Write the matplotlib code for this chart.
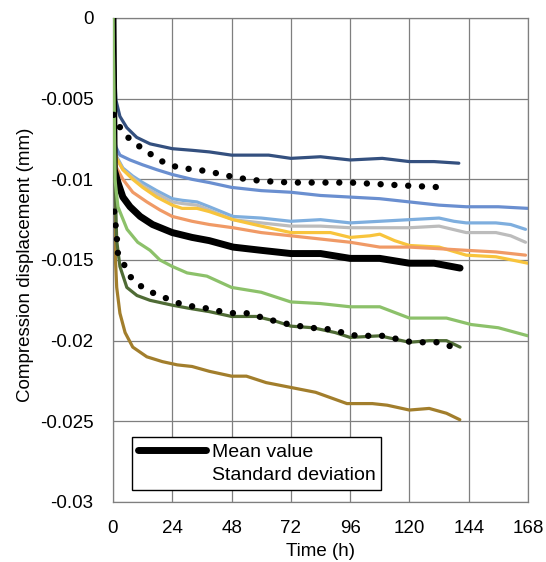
import matplotlib
matplotlib.use("Agg")
import matplotlib.pyplot as plt
from matplotlib.lines import Line2D

plt.rcParams['font.family'] = ['Liberation Sans', 'DejaVu Sans']

# ---------------- data (time in h, displacement in mm) ----------------
t_darkblue = [0, 0.8, 1.2, 2.8, 5.6, 9.6, 15, 24, 32, 39, 48, 55, 63, 72, 84, 96, 109, 120, 130, 140]
y_darkblue = [0, -0.0038, -0.0051, -0.0061, -0.0068, -0.0074, -0.0078, -0.0081, -0.0082, -0.0083, -0.0085,
              -0.0085, -0.0085, -0.0087, -0.0086, -0.0088, -0.0087, -0.0089, -0.0089, -0.0090]

t_blue = [0, 0.5, 1.2, 2.8, 6.9, 12, 17.7, 24, 32, 39, 48, 60, 72, 84, 96, 108, 120, 132, 143, 156, 168]
y_blue = [0, -0.0075, -0.0080, -0.0085, -0.0088, -0.0091, -0.0094, -0.0097, -0.0100, -0.0102, -0.0105,
          -0.0107, -0.0108, -0.0110, -0.0111, -0.0112, -0.0114, -0.0116, -0.0117, -0.0117, -0.0118]

t_lightblue = [0, 0.5, 1.5, 4, 8, 12, 17.7, 24, 28, 34, 39, 48.6, 60, 72, 84, 96, 108, 120, 132, 138, 143,
               155, 161, 167]
y_lightblue = [0, -0.0080, -0.0086, -0.0093, -0.0098, -0.0102, -0.0107, -0.0112, -0.0113, -0.0114, -0.0117,
               -0.0123, -0.0124, -0.0126, -0.0125, -0.0127, -0.0126, -0.0125, -0.0124, -0.0126, -0.0127,
               -0.0127, -0.0128, -0.0131]

t_gray = [0, 0.5, 1.5, 4, 8, 12, 17.7, 24, 28, 34, 39, 48.6, 60, 72, 84, 96, 108, 120, 132, 143, 155, 161, 167]
y_gray = [0, -0.0081, -0.0087, -0.0094, -0.0099, -0.0104, -0.0109, -0.0114, -0.0115, -0.0116, -0.0119,
          -0.0125, -0.0127, -0.0129, -0.0129, -0.0130, -0.0130, -0.0130, -0.0129, -0.0133, -0.0133,
          -0.0135, -0.0139]

t_yellow = [0, 0.5, 1.5, 4, 8, 12, 17.7, 24, 28, 34, 39, 48.6, 60, 72, 80, 88, 96, 104, 108, 114, 120, 132,
            143, 155, 168]
y_yellow = [0, -0.0082, -0.0087, -0.0094, -0.0100, -0.0105, -0.0111, -0.0116, -0.0118, -0.0118, -0.0120,
            -0.0125, -0.0129, -0.0133, -0.0133, -0.0133, -0.0136, -0.0135, -0.0134, -0.0138, -0.0141,
            -0.0142, -0.0147, -0.0148, -0.0152]

t_orange = [0, 0.5, 1.5, 4, 8, 13.7, 19, 24, 32, 39, 48.6, 60, 72, 84, 96, 108, 120, 132, 143, 155, 167]
y_orange = [0, -0.0087, -0.0093, -0.0100, -0.0108, -0.0114, -0.0119, -0.0123, -0.0126, -0.0128, -0.0130,
            -0.0133, -0.0135, -0.0137, -0.0139, -0.0142, -0.0142, -0.0143, -0.0144, -0.0145, -0.0147]

t_lightgreen = [0, 0.8, 2, 5.7, 10, 15, 19, 24, 30, 38, 48, 60, 72, 84, 96, 108, 120, 135, 145, 156, 168]
y_lightgreen = [0, -0.0100, -0.0117, -0.0131, -0.0139, -0.0144, -0.0150, -0.0154, -0.0158, -0.0160,
                -0.0167, -0.0170, -0.0176, -0.0177, -0.0179, -0.0179, -0.0186, -0.0186, -0.0190,
                -0.0192, -0.0197]

t_darkgreen = [0, 0.8, 1.5, 2.8, 5.6, 9.7, 15, 24, 31, 39, 48, 58, 66, 72, 81, 90, 96, 108, 120, 128, 135,
               140.5]
y_darkgreen = [0, -0.0100, -0.0138, -0.0154, -0.0167, -0.0172, -0.0175, -0.0178, -0.0180, -0.0182, -0.0185,
               -0.0185, -0.0188, -0.0191, -0.0192, -0.0195, -0.0198, -0.0197, -0.0201, -0.0200, -0.0200,
               -0.0204]

t_brown = [0, 0.5, 1.0, 1.5, 2.8, 4.9, 8, 13.7, 20, 26, 32, 39, 48, 54, 62, 72, 82, 94.7, 105, 111, 120,
           128, 135, 140.4]
y_brown = [0, -0.0110, -0.0150, -0.0167, -0.0183, -0.0195, -0.0204, -0.0210, -0.0213, -0.0215, -0.0216,
           -0.0219, -0.0222, -0.0222, -0.0226, -0.0229, -0.0232, -0.0239, -0.0239, -0.0240, -0.0243,
           -0.0242, -0.0245, -0.0249]

t_mean = [0, 0.5, 2, 4, 6.9, 11, 16, 24, 32, 39, 48.6, 60, 72, 84, 96, 108, 120, 130, 140.5]
y_mean = [0, -0.0094, -0.0102, -0.0111, -0.0117, -0.0123, -0.0128, -0.0133, -0.0136, -0.0138, -0.0142,
          -0.0144, -0.0146, -0.0146, -0.0149, -0.0149, -0.0152, -0.0152, -0.0155]

t_sd_upper = [0.3, 1.5, 4, 8.2, 13, 17.7, 22.4, 27.8, 33.5, 38.4, 50, 60, 72, 84, 96, 108, 120, 134]
y_sd_upper = [-0.0060, -0.0064, -0.0071, -0.0077, -0.0082, -0.0087, -0.0091, -0.0093, -0.0094, -0.0095,
              -0.0099, -0.0101, -0.0102, -0.0102, -0.0102, -0.0103, -0.0104, -0.0105]

t_sd_lower = [0.5, 1.5, 2, 4.9, 7.7, 12, 17, 22, 27, 33, 38, 44, 49, 55, 61, 66, 71.6, 80, 88, 93, 98.7,
              104, 110, 115, 121, 126, 132, 137.6]
y_sd_lower = [-0.0120, -0.0135, -0.0146, -0.0154, -0.0162, -0.0167, -0.0171, -0.0174, -0.0177, -0.0179,
              -0.0180, -0.0182, -0.0183, -0.0183, -0.0186, -0.0188, -0.0190, -0.0192, -0.0193, -0.0195,
              -0.0197, -0.0197, -0.0197, -0.0199, -0.0201, -0.0201, -0.0201, -0.0204]

x_ticks = [0, 24, 48, 72, 96, 120, 144, 168]
y_ticks = [0, -0.005, -0.01, -0.015, -0.02, -0.025, -0.03]
y_ticklabels = ['0', '-0.005', '-0.01', '-0.015', '-0.02', '-0.025', '-0.03']

# ---------------- figure ----------------
fig = plt.figure(figsize=(5.46, 5.62), dpi=100)
ax = fig.add_axes([113 / 546, 1 - 502 / 562, 415 / 546, 484 / 562])

ax.set_xlim(0, 168)
ax.set_ylim(-0.03, 0)
ax.set_xticks(x_ticks)
ax.set_yticks(y_ticks)
ax.set_yticklabels(y_ticklabels)
ax.grid(True, color='#7f7f7f', lw=0.9)
ax.set_axisbelow(True)
ax.tick_params(length=0, labelsize=13.5, pad=14)
ax.tick_params(axis='x', pad=13)
for s in ax.spines.values():
    s.set_color('#7f7f7f')
    s.set_linewidth(0.9)

lw = 2.3
series = [
    (t_darkblue, y_darkblue, '#34507f', 2),
    (t_blue, y_blue, '#6a8fd0', 2),
    (t_lightblue, y_lightblue, '#7eaede', 2),
    (t_gray, y_gray, '#bcbcbc', 2),
    (t_yellow, y_yellow, '#f8c43c', 2),
    (t_orange, y_orange, '#f09a66', 2),
    (t_brown, y_brown, '#a27e2c', 2),
    (t_darkgreen, y_darkgreen, '#4f6b35', 3.5),
    (t_lightgreen, y_lightgreen, '#8cc16a', 3.6),
]
for t, y, c, z in series:
    ax.plot(t, y, color=c, lw=lw, solid_capstyle='round', solid_joinstyle='round', zorder=z)

mean_line, = ax.plot(t_mean, y_mean, color='black', lw=5, solid_capstyle='round',
                     solid_joinstyle='round', zorder=3)
for t, y in [(t_sd_upper, y_sd_upper), (t_sd_lower, y_sd_lower)]:
    ax.plot(t, y, color='black', lw=4.6, linestyle=(0, (0.01, 2.15)), dash_capstyle='round', zorder=4)

ax.set_xlabel('Time (h)', fontsize=13.5, labelpad=4)
ax.set_ylabel('Compression displacement (mm)', fontsize=13.5)
ax.yaxis.set_label_coords(-0.19, 0.49)

leg = ax.legend([mean_line, Line2D([], [], linestyle='none')], ['Mean value', 'Standard deviation'],
                loc='lower left', bbox_to_anchor=(0.046, 0.025), fontsize=14, frameon=True,
                fancybox=False, edgecolor='black', handlelength=3.5, handletextpad=0.3,
                borderpad=0.3, labelspacing=0.3, borderaxespad=0)
leg.get_frame().set_linewidth(1.0)
leg.get_frame().set_alpha(1)

fig.savefig('out.png', dpi=100)
